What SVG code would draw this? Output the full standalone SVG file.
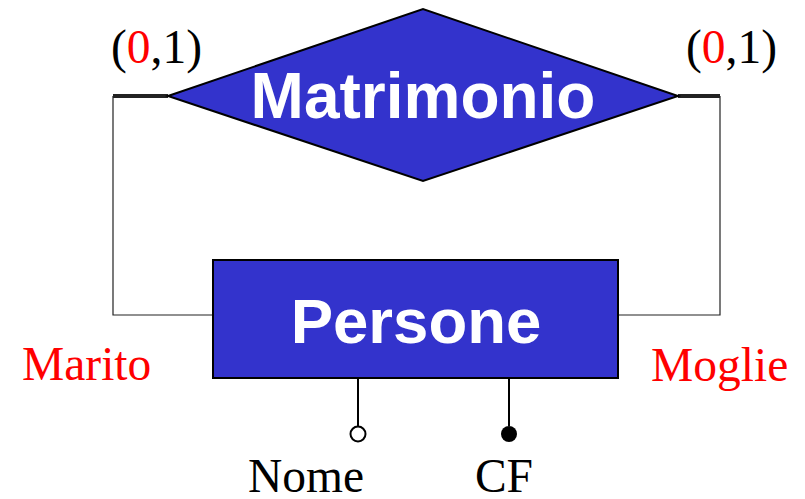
<svg xmlns="http://www.w3.org/2000/svg" width="805" height="499" viewBox="0 0 805 499">
<style>
.shape{fill:#3333CC;stroke:#000;stroke-width:2}
.title{font-family:"Liberation Sans",Arial,sans-serif;font-weight:bold;fill:#fff;text-anchor:middle}
.lbl{font-family:"Liberation Serif","Times New Roman",serif;font-size:47.5px;fill:#000}
.red{fill:#FF0000}
.thin{fill:none;stroke:#222;stroke-width:1.2}
.thick{fill:none;stroke:#222;stroke-width:4}
.attr{stroke:#000;stroke-width:2}
</style>
<rect width="805" height="499" fill="#fff"/>
<g id="connectors">
<path class="thin" d="M113,96 V315 H213"/>
<path class="thin" d="M720,96 V315 H619"/>
<line class="thick" x1="113" y1="96" x2="168" y2="96"/>
<line class="thick" x1="678" y1="96" x2="720" y2="96"/>
</g>
<g id="matrimonio">
<polygon class="shape" points="168,96 423,9 678,96 423,181"/>
<text class="title" x="423" y="118" font-size="64">Matrimonio</text>
</g>
<g id="persone">
<rect class="shape" x="213" y="260" width="405" height="118"/>
<text class="title" x="416" y="343" font-size="63.5">Persone</text>
</g>
<g id="attr-nome">
<line class="attr" x1="358" y1="378" x2="358" y2="426"/>
<circle cx="358" cy="434" r="7.5" fill="#fff" stroke="#000" stroke-width="2"/>
<text class="lbl" x="306" y="492" text-anchor="middle">Nome</text>
</g>
<g id="attr-cf">
<line class="attr" x1="509" y1="378" x2="509" y2="426"/>
<circle cx="509" cy="434" r="8" fill="#000"/>
<text class="lbl" x="504" y="492" text-anchor="middle">CF</text>
</g>
<g id="labels">
<text class="lbl" x="111" y="63">(<tspan class="red">0</tspan>,1)</text>
<text class="lbl" x="686" y="63">(<tspan class="red">0</tspan>,1)</text>
<text class="lbl red" x="22" y="380">Marito</text>
<text class="lbl red" x="651" y="381">Moglie</text>
</g>
</svg>
